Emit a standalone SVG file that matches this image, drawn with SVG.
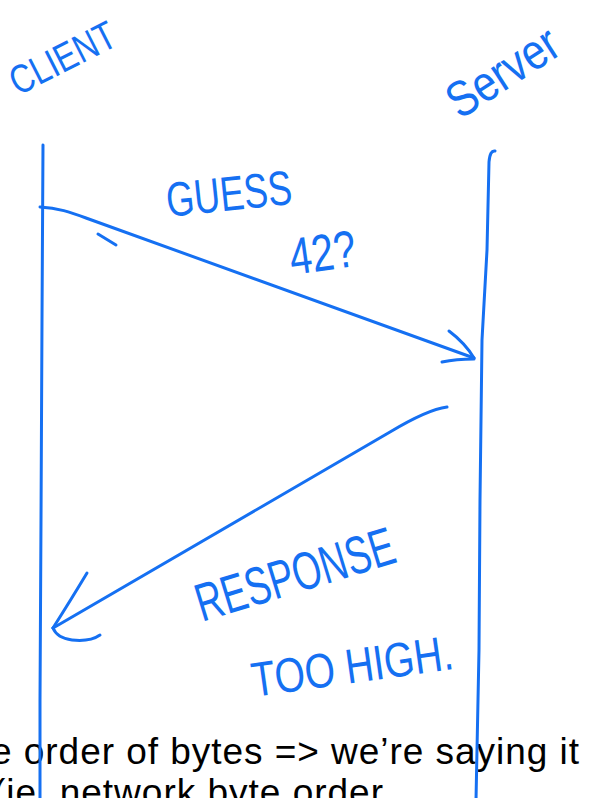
<svg xmlns="http://www.w3.org/2000/svg" width="608" height="798" viewBox="0 0 608 798">
  <style>
    .ink { fill: none; stroke: #1570f2; stroke-width: 3; stroke-linecap: round; stroke-linejoin: round; }
    .hand { fill: #1570f2; font-family: "Liberation Sans", "DejaVu Sans", sans-serif; }
    .cap { fill: #000000; font-family: "Liberation Sans", Arial, sans-serif; font-size: 37px; }
  </style>
  <rect x="0" y="0" width="608" height="798" fill="#ffffff"/>

  <g id="caption">
    <text class="cap" x="-9" y="764" textLength="588" lengthAdjust="spacing">e order of bytes =&gt; we’re saying it</text>
    <text class="cap" x="-7" y="805" textLength="390" lengthAdjust="spacing">(ie. network byte order</text>
  </g>

  <g id="client">
    <path class="ink" d="M43,145 L42,320 L41,520 L40,700 L40,800"/>
    <text class="hand" font-size="32" transform="translate(18,96) rotate(-27) scale(1,1.25)">CLIENT</text>
  </g>

  <g id="server">
    <path class="ink" d="M495,151 Q490,150 489,162 L487,250 L482,340 L480,500 L479,650 L476,800"/>
    <text class="hand" font-size="42" transform="translate(460,120) rotate(-33) scale(1,1.2)">Server</text>
  </g>

  <g id="connectors">
    <g id="guess-arrow">
      <path class="ink" d="M40,207 C58,208 70,212 86,218 L474,358"/>
      <path class="ink" d="M449,331 Q465,343 474,358"/>
      <path class="ink" d="M442,362 Q456,359 474,359"/>
      <path class="ink" d="M98,234 L116,245"/>
    </g>
    <g id="response-arrow">
      <path class="ink" d="M447,407 C432,409 410,420 390,432 L60,624 L53,628"/>
      <path class="ink" d="M87,573 Q72,598 53,628"/>
      <path class="ink" d="M53,628 Q57,638 72,640 Q90,642 100,635"/>
    </g>
  </g>

  <g id="guess-label">
    <text class="hand" font-size="36" transform="translate(168,217) rotate(-6) scale(1,1.35)">GUESS</text>
    <text class="hand" font-size="40" transform="translate(292,275) rotate(-8) scale(1,1.3)">42?</text>
  </g>

  <g id="response-label">
    <text class="hand" font-size="37" transform="translate(202,622) rotate(-17) scale(1,1.45)">RESPONSE</text>
    <text class="hand" font-size="39" transform="translate(254,697) rotate(-8) scale(1,1.25)">TOO HIGH.</text>
  </g>
</svg>
